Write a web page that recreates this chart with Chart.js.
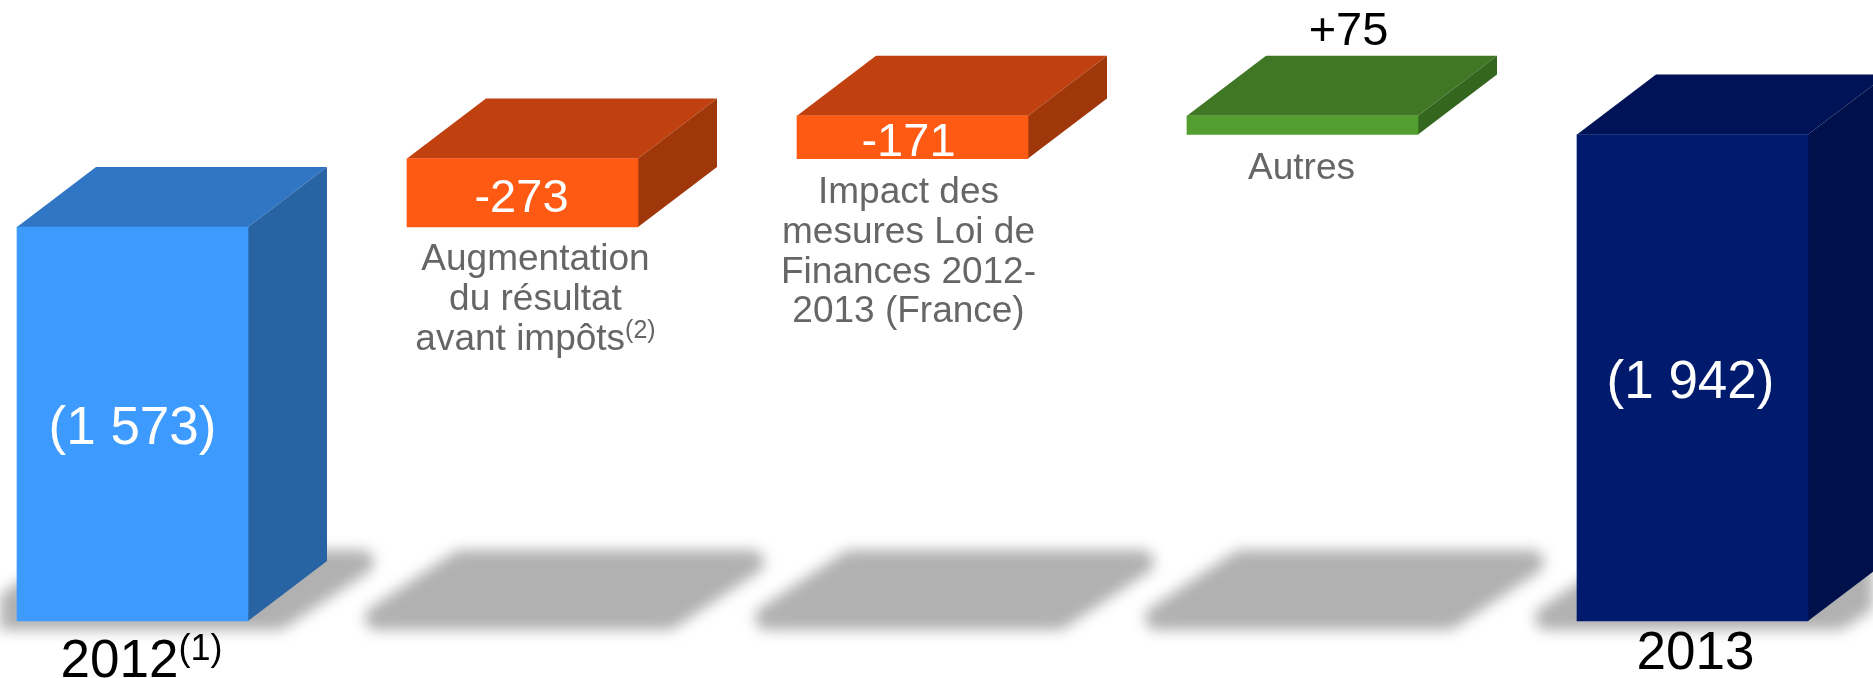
<!DOCTYPE html>
<html lang="fr">
<head>
<meta charset="utf-8">
<title>Impôts 2012 - 2013</title>
<script src="https://cdn.jsdelivr.net/npm/chart.js@4"></script>
<style>
    html, body { margin: 0; padding: 0; background: #fff; overflow: hidden; }
    #chart { display: block; }
</style>
</head>
<body>
<canvas id="chart" width="1873" height="678"></canvas>
<script>
const categories = ['2012', 'Augmentation', 'Impact Loi de Finances', 'Autres', '2013'];
const barStart = [0, 1573, 1846, 1942, 0];
const barEnd = [1573, 1846, 2017, 2017, 1942];
const valueLabels = ['(1 573)', '-273', '-171', '+75', '(1 942)'];

const frontColors = ['#3d9bff', '#ff5a14', '#ff5a14', '#529e2f', '#001a6e'];
const topColors = ['#3176c4', '#c0410f', '#c0410f', '#3f7725', '#001357'];
const sideColors = ['#2864a4', '#a0370b', '#a0370b', '#346620', '#00104a'];

const FONT = '"Liberation Sans", Arial, sans-serif';
const DEPTH_X = 79;
const DEPTH_Y = 60;

// text blocks: [text, size, colour, x offset from bar centre, baseline y, superscript]
const textBlocks = [
    [valueLabels[0], 53, '#fff', 0, 444],
    [valueLabels[1], 47, '#fff', -1, 212],
    [valueLabels[2], 47, '#fff', -4, 156],
    [valueLabels[3], 47, '#000', 46, 45],
    [valueLabels[4], 53, '#fff', -2, 398],
    ['Augmentation', 37, '#666', 13, 270],
    ['du résultat', 37, '#666', 13, 310],
    ['avant impôts', 37, '#666', 13, 350, '(2)'],
    ['Impact des', 37, '#666', -4, 203],
    ['mesures Loi de', 37, '#666', -4, 243],
    ['Finances 2012-', 37, '#666', -4, 283],
    ['2013 (France)', 37, '#666', -4, 322],
    ['Autres', 37, '#666', -1, 179],
    ['2012', 53, '#000', 9, 677, '(1)'],
    ['2013', 53, '#000', 3, 669]
];
// which bar each text block is placed against
const textBarIndex = [0, 1, 2, 3, 4, 1, 1, 1, 2, 2, 2, 2, 3, 0, 4];

const shadowPlugin = {
    id: 'shadows',
    beforeDatasetsDraw(chart) {
        // drawn on a spare canvas first so fill and stroke get blurred as one shape
        const spare = document.createElement('canvas');
        spare.width = chart.width;
        spare.height = chart.height;
        const sctx = spare.getContext('2d');
        sctx.fillStyle = '#b1b1b1';
        sctx.strokeStyle = '#b1b1b1';
        sctx.lineWidth = 24;
        sctx.lineJoin = 'round';
        chart.getDatasetMeta(0).data.forEach(bar => {
            const left = bar.x - bar.width / 2;
            const right = bar.x + bar.width / 2;
            sctx.beginPath();
            sctx.moveTo(left + 54, 562);
            sctx.lineTo(right + 114, 562);
            sctx.lineTo(right + 30, 618);
            sctx.lineTo(left - 30, 618);
            sctx.closePath();
            sctx.fill();
            sctx.stroke();
        });
        const ctx = chart.ctx;
        ctx.save();
        ctx.filter = 'blur(7px)';
        ctx.drawImage(spare, 0, 0);
        ctx.restore();
    }
};

const depthPlugin = {
    id: 'depth',
    beforeDatasetsDraw(chart) {
        const ctx = chart.ctx;
        ctx.save();
        chart.getDatasetMeta(0).data.forEach((bar, i) => {
            const left = bar.x - bar.width / 2;
            const right = bar.x + bar.width / 2;
            ctx.fillStyle = topColors[i];
            ctx.beginPath();
            ctx.moveTo(left, bar.y);
            ctx.lineTo(left + DEPTH_X, bar.y - DEPTH_Y);
            ctx.lineTo(right + DEPTH_X, bar.y - DEPTH_Y);
            ctx.lineTo(right, bar.y);
            ctx.closePath();
            ctx.fill();
            ctx.fillStyle = sideColors[i];
            ctx.beginPath();
            ctx.moveTo(right, bar.y);
            ctx.lineTo(right + DEPTH_X, bar.y - DEPTH_Y);
            ctx.lineTo(right + DEPTH_X, bar.base - DEPTH_Y);
            ctx.lineTo(right, bar.base);
            ctx.closePath();
            ctx.fill();
        });
        ctx.restore();
    }
};

const textPlugin = {
    id: 'texts',
    afterDatasetsDraw(chart) {
        const ctx = chart.ctx;
        const bars = chart.getDatasetMeta(0).data;
        ctx.save();
        ctx.textBaseline = 'alphabetic';
        ctx.textAlign = 'left';
        textBlocks.forEach((block, i) => {
            const [text, size, color, dx, y, sup] = block;
            const cx = bars[textBarIndex[i]].x + dx;
            ctx.fillStyle = color;
            ctx.font = size + 'px ' + FONT;
            const mainWidth = ctx.measureText(text).width;
            let supWidth = 0;
            const supSize = Math.round(size * 0.68);
            if (sup) {
                ctx.font = supSize + 'px ' + FONT;
                supWidth = ctx.measureText(sup).width;
                ctx.font = size + 'px ' + FONT;
            }
            const x = cx - (mainWidth + supWidth) / 2;
            ctx.fillText(text, x, y);
            if (sup) {
                ctx.font = supSize + 'px ' + FONT;
                ctx.fillText(sup, x + mainWidth, y - size * 0.33);
            }
        });
        ctx.restore();
    }
};

new Chart(document.getElementById('chart'), {
    type: 'bar',
    data: {
        labels: categories,
        datasets: [{
            data: categories.map((c, i) => [barStart[i], barEnd[i]]),
            backgroundColor: frontColors,
            borderWidth: 0,
            borderSkipped: false,
            barThickness: 231,
            clip: false
        }]
    },
    options: {
        responsive: false,
        animation: false,
        layout: { padding: { left: 132.5, right: 180.5, top: 0, bottom: 57 } },
        plugins: { legend: { display: false }, tooltip: { enabled: false } },
        scales: {
            x: { display: false, offset: false, grid: { display: false } },
            y: { display: false, min: 0, max: 2479, grid: { display: false } }
        }
    },
    plugins: [shadowPlugin, depthPlugin, textPlugin]
});
</script>
</body>
</html>
